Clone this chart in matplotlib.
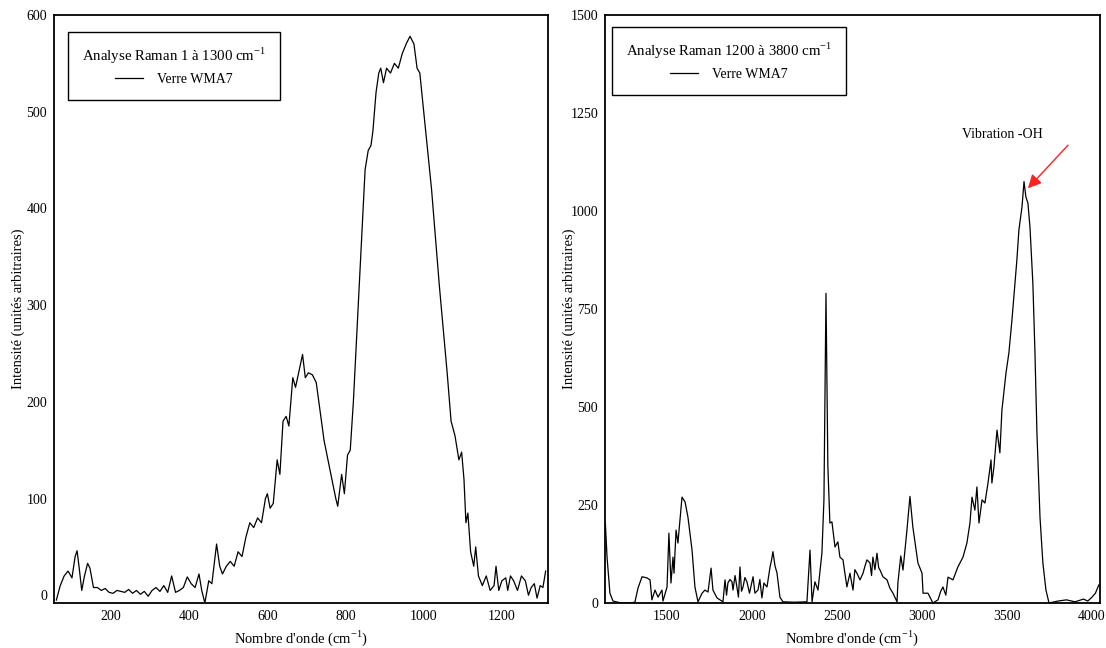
import matplotlib.pyplot as plt

plt.rcParams['font.family'] = ['Liberation Serif', 'DejaVu Serif']
plt.rcParams['mathtext.fontset'] = 'custom'
plt.rcParams['mathtext.rm'] = 'Liberation Serif'

# spectre 1 - 1300 cm-1
x1 = [60, 70, 80, 90, 100, 108, 113, 118, 125, 132, 140, 146, 155, 165, 175, 185,
      195, 205, 215, 225, 235, 245, 255, 265, 275, 285, 295, 305, 315, 325, 335,
      345, 355, 365, 375, 385, 395, 405, 415, 425, 432, 440, 450, 458, 470, 478,
      485, 495, 505, 515, 525, 535, 545, 555, 565, 575, 585, 595, 600, 607, 615,
      625, 632, 640, 648, 655, 665, 672, 680, 690, 697, 705, 715, 725, 735, 745,
      755, 765, 775, 780, 790, 797, 805, 812, 820, 830, 840, 850, 858, 865, 870,
      878, 885, 890, 897, 905, 915, 925, 935, 945, 955, 965, 975, 983, 990, 1000,
      1010, 1020, 1030, 1040, 1050, 1060, 1070, 1080, 1090, 1097, 1103, 1108,
      1113, 1120, 1128, 1133, 1140, 1150, 1160, 1170, 1180, 1185, 1192, 1200,
      1210, 1215, 1222, 1230, 1240, 1250, 1260, 1268, 1275, 1283, 1290, 1298,
      1305, 1312]
y1 = [-5, 10, 20, 25, 18, 40, 46, 30, 5, 20, 33, 28, 8, 8, 5, 7,
      3, 2, 5, 4, 3, 6, 2, 5, 1, 4, -1, 5, 8, 4, 10,
      3, 20, 3, 5, 8, 19, 12, 8, 22, 5, -8, 15, 12, 53, 30,
      22, 30, 35, 30, 45, 40, 60, 75, 70, 80, 75, 100, 105, 90, 95,
      140, 125, 180, 185, 175, 225, 215, 230, 249, 225, 230, 228, 220, 190, 160,
      140, 120, 100, 92, 125, 105, 145, 150, 200, 280, 360, 440, 460, 465, 480,
      520, 540, 545, 530, 545, 540, 550, 545, 560, 570, 578, 570, 545, 540, 500,
      460, 420, 370, 320, 275, 230, 180, 165, 140, 148, 120, 75,
      85, 45, 30, 50, 20, 10, 20, 5, 10, 30, 5, 15,
      18, 5, 20, 15, 5, 20, 15, 0, 8, 12, -3, 10,
      8, 25]

# spectre 1200 - 3800 cm-1
x2 = [1137, 1147, 1164, 1182, 1230, 1280, 1311, 1329, 1353, 1382, 1400, 1411, 1429,
      1447, 1470, 1476, 1500, 1511, 1523, 1535, 1541, 1553, 1564, 1588, 1606,
      1623, 1647, 1664, 1682, 1706, 1723, 1741, 1759, 1770, 1794, 1811, 1829,
      1841, 1850, 1858, 1870, 1882, 1888, 1900, 1911, 1920, 1929, 1938, 1947,
      1958, 1970, 1985, 2006, 2017, 2035, 2046, 2058, 2070, 2080, 2088, 2106,
      2115, 2123, 2135, 2147, 2164, 2182, 2250, 2323, 2341, 2353, 2370, 2388,
      2411, 2423, 2435, 2446, 2458, 2470, 2488, 2505, 2517, 2535, 2558, 2576,
      2594, 2605, 2617, 2635, 2653, 2665, 2676, 2694, 2703, 2711, 2723, 2735,
      2745, 2753, 2770, 2794, 2811, 2829, 2853, 2858, 2875, 2888, 2910, 2929,
      2946, 2976, 3000, 3006, 3035, 3064, 3094, 3110, 3123, 3140, 3153, 3182,
      3211, 3241, 3264, 3282, 3294, 3311, 3323, 3335, 3353, 3370, 3388, 3406,
      3411, 3423, 3441, 3458, 3470, 3494, 3511, 3529, 3547, 3558, 3570, 3588,
      3600, 3611, 3623, 3635, 3652, 3664, 3676, 3694, 3711, 3729, 3747, 3800,
      3850, 3900, 3950, 3975, 4000, 4020, 4040]
y2 = [205, 117, 25, 5, 0, 0, 2, 38, 67, 64, 59, 8, 33,
      15, 33, 5, 41, 178, 51, 117, 76, 186, 153, 270, 258,
      219, 135, 41, 3, 25, 33, 28, 89, 33, 13, 8, 3,
      59, 20, 51, 60, 54, 33, 70, 41, 15, 92, 30, 41,
      65, 54, 25, 67, 25, 33, 60, 13, 51, 45, 41, 92,
      110, 131, 95, 76, 15, 3, 2, 3, 135, 3, 54, 33,
      127, 263, 790, 350, 204, 207, 143, 156, 117, 110, 41, 76,
      33, 85, 76, 59, 76, 95, 110, 102, 70, 117, 85, 127,
      90, 84, 67, 59, 38, 25, 3, 51, 120, 84, 180, 272,
      194, 102, 76, 25, 25, 0, 8, 30, 41, 20, 66, 59,
      92, 117, 153, 204, 270, 237, 296, 204, 263, 255, 306, 365,
      306, 347, 441, 383, 492, 587, 638, 722, 816, 875, 952, 1010,
      1075, 1036, 1020, 959, 816, 645, 434, 219, 102, 33, 0, 5,
      8, 3, 10, 5, 15, 25, 46]

ticks1_x = [200, 400, 600, 800, 1000, 1200]
ticks1_y = [0, 100, 200, 300, 400, 500, 600]
ticks2_x = [1500, 2000, 2500, 3000, 3500, 4000]
ticks2_y = [0, 250, 500, 750, 1000, 1250, 1500]

fig = plt.figure(figsize=(11.06, 6.48), dpi=100)
ax1 = fig.add_axes([54 / 1106, 45 / 648, 494 / 1106, 588 / 648])
ax2 = fig.add_axes([605 / 1106, 45 / 648, 495 / 1106, 588 / 648])

ax1.plot(x1, y1, color='black', lw=0.9, label='Verre WMA7')
ax2.plot(x2, y2, color='black', lw=0.9, label='Verre WMA7')

ax1.set_xlim(54, 1318)
ax1.set_ylim(-8, 600)
ax2.set_xlim(1135, 4047)
ax2.set_ylim(0, 1500)
ax1.set_xticks(ticks1_x)
ax1.set_yticks(ticks1_y)
ax2.set_xticks(ticks2_x)
ax2.set_yticks(ticks2_y)

titres = ['Analyse Raman 1 à 1300 cm$^{-1}$', 'Analyse Raman 1200 à 3800 cm$^{-1}$']
ancres = [(0.028, 0.971), (0.014, 0.98)]
pads = [1, -4]
for ax, titre, anc, lp in zip([ax1, ax2], titres, ancres, pads):
    for s in ax.spines.values():
        s.set_linewidth(1.3)
    ax.tick_params(length=0, labelsize=10, pad=5)
    ax.set_xlabel("Nombre d'onde (cm$^{-1}$)", fontsize=10.5, labelpad=4)
    ax.set_ylabel('Intensité (unités arbitraires)', fontsize=10.5, labelpad=lp)
    leg = ax.legend(title=titre, loc='upper left', bbox_to_anchor=anc, borderaxespad=0,
                    fancybox=False, edgecolor='black', framealpha=1, fontsize=10,
                    title_fontsize=10.7, handlelength=2.0, borderpad=1.0,
                    handletextpad=1.0, frameon=True)
    leg.get_frame().set_linewidth(1.0)

ax2.annotate('', xy=(3623, 1058), xytext=(3859, 1168),
             arrowprops=dict(arrowstyle='-|>', color='#ff2020', lw=1, mutation_scale=20,
                             shrinkA=0, shrinkB=0))
ax2.text(3470, 1195, 'Vibration -OH', fontsize=10, ha='center', va='center')

plt.savefig('out.png', dpi=100)
